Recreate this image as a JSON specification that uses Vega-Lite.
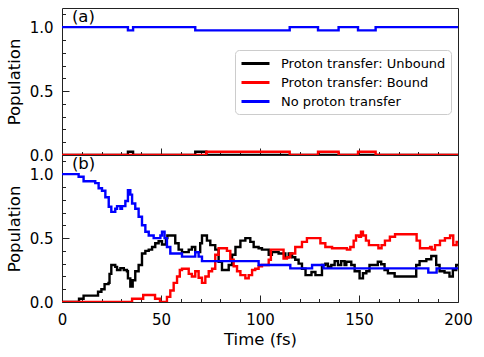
{
  "$schema": "https://vega.github.io/schema/vega-lite/v6.json",
  "padding": {"left": 5, "top": 6, "right": 5, "bottom": 5},
  "spacing": 0,
  "bounds": "flush",
  "config": {
    "font": "DejaVu Sans",
    "view": {"stroke": "#222222", "strokeWidth": 1},
    "axis": {
      "domain": false,
      "grid": false,
      "ticks": true,
      "tickColor": "#222222",
      "tickWidth": 1,
      "tickCount": 100,
      "labelOverlap": false,
      "labelFlush": false,
      "labelFont": "DejaVu Sans",
      "labelFontSize": 15,
      "labelColor": "black",
      "titleFont": "DejaVu Sans",
      "titleFontSize": 16.5,
      "titleFontWeight": "normal",
      "titleColor": "black"
    },
    "legend": {
      "orient": "none",
      "legendX": 173,
      "legendY": 42,
      "symbolType": "M-1,0H3",
      "symbolStrokeWidth": 3,
      "symbolSize": 196,
      "labelFont": "DejaVu Sans",
      "labelFontSize": 13,
      "labelColor": "black",
      "labelLimit": 300,
      "strokeColor": "#cccccc",
      "fillColor": "white",
      "cornerRadius": 4,
      "padding": 5,
      "rowPadding": 3,
      "labelOffset": 24
    }
  },
  "datasets": {
    "a": [
      {"s": "Proton transfer: Unbound", "t": 0, "p": 0},
      {"s": "Proton transfer: Unbound", "t": 33.3, "p": 0.025},
      {"s": "Proton transfer: Unbound", "t": 35.9, "p": 0},
      {"s": "Proton transfer: Unbound", "t": 67.3, "p": 0.025},
      {"s": "Proton transfer: Unbound", "t": 72.9, "p": 0},
      {"s": "Proton transfer: Unbound", "t": 200, "p": 0},
      {"s": "Proton transfer: Bound", "t": 0, "p": 0},
      {"s": "Proton transfer: Bound", "t": 72.9, "p": 0.025},
      {"s": "Proton transfer: Bound", "t": 115, "p": 0},
      {"s": "Proton transfer: Bound", "t": 129.3, "p": 0.025},
      {"s": "Proton transfer: Bound", "t": 139.7, "p": 0},
      {"s": "Proton transfer: Bound", "t": 149.5, "p": 0.025},
      {"s": "Proton transfer: Bound", "t": 158.4, "p": 0},
      {"s": "Proton transfer: Bound", "t": 200, "p": 0},
      {"s": "No proton transfer", "t": 0, "p": 1},
      {"s": "No proton transfer", "t": 33.3, "p": 0.975},
      {"s": "No proton transfer", "t": 35.9, "p": 1},
      {"s": "No proton transfer", "t": 67.3, "p": 0.975},
      {"s": "No proton transfer", "t": 115, "p": 1},
      {"s": "No proton transfer", "t": 129.3, "p": 0.975},
      {"s": "No proton transfer", "t": 139.7, "p": 1},
      {"s": "No proton transfer", "t": 149.5, "p": 0.975},
      {"s": "No proton transfer", "t": 158.4, "p": 1},
      {"s": "No proton transfer", "t": 200, "p": 1}
    ],
    "b": [
      {"s": "Proton transfer: Unbound", "t": 0, "p": 0},
      {"s": "Proton transfer: Unbound", "t": 8.6, "p": 0.025},
      {"s": "Proton transfer: Unbound", "t": 10.9, "p": 0.05},
      {"s": "Proton transfer: Unbound", "t": 18.2, "p": 0.08},
      {"s": "Proton transfer: Unbound", "t": 19.9, "p": 0.1},
      {"s": "Proton transfer: Unbound", "t": 21.5, "p": 0.14},
      {"s": "Proton transfer: Unbound", "t": 23.5, "p": 0.15},
      {"s": "Proton transfer: Unbound", "t": 24, "p": 0.22},
      {"s": "Proton transfer: Unbound", "t": 24.9, "p": 0.29},
      {"s": "Proton transfer: Unbound", "t": 26.9, "p": 0.275},
      {"s": "Proton transfer: Unbound", "t": 27.8, "p": 0.25},
      {"s": "Proton transfer: Unbound", "t": 29.5, "p": 0.265},
      {"s": "Proton transfer: Unbound", "t": 31.2, "p": 0.25},
      {"s": "Proton transfer: Unbound", "t": 32.8, "p": 0.24},
      {"s": "Proton transfer: Unbound", "t": 33.3, "p": 0.185},
      {"s": "Proton transfer: Unbound", "t": 34.5, "p": 0.12},
      {"s": "Proton transfer: Unbound", "t": 35.7, "p": 0.17},
      {"s": "Proton transfer: Unbound", "t": 37, "p": 0.24},
      {"s": "Proton transfer: Unbound", "t": 38.7, "p": 0.29},
      {"s": "Proton transfer: Unbound", "t": 40.4, "p": 0.38},
      {"s": "Proton transfer: Unbound", "t": 42.1, "p": 0.4},
      {"s": "Proton transfer: Unbound", "t": 43.8, "p": 0.41},
      {"s": "Proton transfer: Unbound", "t": 45.5, "p": 0.43},
      {"s": "Proton transfer: Unbound", "t": 47.1, "p": 0.46},
      {"s": "Proton transfer: Unbound", "t": 48.8, "p": 0.475},
      {"s": "Proton transfer: Unbound", "t": 50.5, "p": 0.45},
      {"s": "Proton transfer: Unbound", "t": 52.5, "p": 0.5},
      {"s": "Proton transfer: Unbound", "t": 53.2, "p": 0.52},
      {"s": "Proton transfer: Unbound", "t": 57.2, "p": 0.46},
      {"s": "Proton transfer: Unbound", "t": 58.9, "p": 0.41},
      {"s": "Proton transfer: Unbound", "t": 60.6, "p": 0.39},
      {"s": "Proton transfer: Unbound", "t": 64, "p": 0.41},
      {"s": "Proton transfer: Unbound", "t": 65.6, "p": 0.43},
      {"s": "Proton transfer: Unbound", "t": 67.3, "p": 0.39},
      {"s": "Proton transfer: Unbound", "t": 69.8, "p": 0.46},
      {"s": "Proton transfer: Unbound", "t": 70.7, "p": 0.52},
      {"s": "Proton transfer: Unbound", "t": 73.2, "p": 0.48},
      {"s": "Proton transfer: Unbound", "t": 74.9, "p": 0.445},
      {"s": "Proton transfer: Unbound", "t": 77.4, "p": 0.41},
      {"s": "Proton transfer: Unbound", "t": 79.1, "p": 0.315},
      {"s": "Proton transfer: Unbound", "t": 80.8, "p": 0.25},
      {"s": "Proton transfer: Unbound", "t": 84.2, "p": 0.29},
      {"s": "Proton transfer: Unbound", "t": 85.9, "p": 0.37},
      {"s": "Proton transfer: Unbound", "t": 87.6, "p": 0.43},
      {"s": "Proton transfer: Unbound", "t": 90.1, "p": 0.48},
      {"s": "Proton transfer: Unbound", "t": 92.6, "p": 0.5},
      {"s": "Proton transfer: Unbound", "t": 95.1, "p": 0.47},
      {"s": "Proton transfer: Unbound", "t": 96.8, "p": 0.43},
      {"s": "Proton transfer: Unbound", "t": 99.3, "p": 0.42},
      {"s": "Proton transfer: Unbound", "t": 101, "p": 0.41},
      {"s": "Proton transfer: Unbound", "t": 104.4, "p": 0.37},
      {"s": "Proton transfer: Unbound", "t": 106, "p": 0.39},
      {"s": "Proton transfer: Unbound", "t": 109.4, "p": 0.38},
      {"s": "Proton transfer: Unbound", "t": 112.8, "p": 0.35},
      {"s": "Proton transfer: Unbound", "t": 114.5, "p": 0.38},
      {"s": "Proton transfer: Unbound", "t": 116.2, "p": 0.35},
      {"s": "Proton transfer: Unbound", "t": 117.8, "p": 0.33},
      {"s": "Proton transfer: Unbound", "t": 119.5, "p": 0.3},
      {"s": "Proton transfer: Unbound", "t": 121.2, "p": 0.26},
      {"s": "Proton transfer: Unbound", "t": 123, "p": 0.21},
      {"s": "Proton transfer: Unbound", "t": 126, "p": 0.235},
      {"s": "Proton transfer: Unbound", "t": 128, "p": 0.21},
      {"s": "Proton transfer: Unbound", "t": 131.3, "p": 0.29},
      {"s": "Proton transfer: Unbound", "t": 133, "p": 0.3},
      {"s": "Proton transfer: Unbound", "t": 134.3, "p": 0.276},
      {"s": "Proton transfer: Unbound", "t": 136, "p": 0.29},
      {"s": "Proton transfer: Unbound", "t": 137.7, "p": 0.32},
      {"s": "Proton transfer: Unbound", "t": 139.4, "p": 0.29},
      {"s": "Proton transfer: Unbound", "t": 141, "p": 0.32},
      {"s": "Proton transfer: Unbound", "t": 142.7, "p": 0.29},
      {"s": "Proton transfer: Unbound", "t": 143.6, "p": 0.315},
      {"s": "Proton transfer: Unbound", "t": 146.1, "p": 0.29},
      {"s": "Proton transfer: Unbound", "t": 147.8, "p": 0.24},
      {"s": "Proton transfer: Unbound", "t": 150.3, "p": 0.185},
      {"s": "Proton transfer: Unbound", "t": 152, "p": 0.225},
      {"s": "Proton transfer: Unbound", "t": 153.7, "p": 0.24},
      {"s": "Proton transfer: Unbound", "t": 155.3, "p": 0.29},
      {"s": "Proton transfer: Unbound", "t": 159.5, "p": 0.315},
      {"s": "Proton transfer: Unbound", "t": 161.2, "p": 0.295},
      {"s": "Proton transfer: Unbound", "t": 162.9, "p": 0.25},
      {"s": "Proton transfer: Unbound", "t": 164.6, "p": 0.225},
      {"s": "Proton transfer: Unbound", "t": 168, "p": 0.2},
      {"s": "Proton transfer: Unbound", "t": 178.9, "p": 0.29},
      {"s": "Proton transfer: Unbound", "t": 180.6, "p": 0.32},
      {"s": "Proton transfer: Unbound", "t": 184, "p": 0.335},
      {"s": "Proton transfer: Unbound", "t": 186.5, "p": 0.36},
      {"s": "Proton transfer: Unbound", "t": 189, "p": 0.29},
      {"s": "Proton transfer: Unbound", "t": 190.7, "p": 0.24},
      {"s": "Proton transfer: Unbound", "t": 193.2, "p": 0.23},
      {"s": "Proton transfer: Unbound", "t": 195.7, "p": 0.2},
      {"s": "Proton transfer: Unbound", "t": 197.4, "p": 0.25},
      {"s": "Proton transfer: Unbound", "t": 199.1, "p": 0.29},
      {"s": "Proton transfer: Unbound", "t": 200, "p": 0.29},
      {"s": "Proton transfer: Bound", "t": 0, "p": 0},
      {"s": "Proton transfer: Bound", "t": 35.4, "p": 0.025},
      {"s": "Proton transfer: Bound", "t": 41, "p": 0.055},
      {"s": "Proton transfer: Bound", "t": 47, "p": 0.025},
      {"s": "Proton transfer: Bound", "t": 49.5, "p": 0},
      {"s": "Proton transfer: Bound", "t": 53, "p": 0.04},
      {"s": "Proton transfer: Bound", "t": 54.7, "p": 0.09},
      {"s": "Proton transfer: Bound", "t": 56.4, "p": 0.15},
      {"s": "Proton transfer: Bound", "t": 58.1, "p": 0.2},
      {"s": "Proton transfer: Bound", "t": 59.5, "p": 0.25},
      {"s": "Proton transfer: Bound", "t": 60.6, "p": 0.26},
      {"s": "Proton transfer: Bound", "t": 64, "p": 0.22},
      {"s": "Proton transfer: Bound", "t": 65.6, "p": 0.2},
      {"s": "Proton transfer: Bound", "t": 67.3, "p": 0.24},
      {"s": "Proton transfer: Bound", "t": 69, "p": 0.19},
      {"s": "Proton transfer: Bound", "t": 70.7, "p": 0.15},
      {"s": "Proton transfer: Bound", "t": 72.4, "p": 0.2},
      {"s": "Proton transfer: Bound", "t": 74.1, "p": 0.24},
      {"s": "Proton transfer: Bound", "t": 75.8, "p": 0.26},
      {"s": "Proton transfer: Bound", "t": 77.4, "p": 0.37},
      {"s": "Proton transfer: Bound", "t": 79.1, "p": 0.42},
      {"s": "Proton transfer: Bound", "t": 83.3, "p": 0.4},
      {"s": "Proton transfer: Bound", "t": 85, "p": 0.33},
      {"s": "Proton transfer: Bound", "t": 86.7, "p": 0.28},
      {"s": "Proton transfer: Bound", "t": 88.4, "p": 0.24},
      {"s": "Proton transfer: Bound", "t": 90.1, "p": 0.21},
      {"s": "Proton transfer: Bound", "t": 92.6, "p": 0.185},
      {"s": "Proton transfer: Bound", "t": 94.3, "p": 0.21},
      {"s": "Proton transfer: Bound", "t": 96, "p": 0.25},
      {"s": "Proton transfer: Bound", "t": 97.6, "p": 0.26},
      {"s": "Proton transfer: Bound", "t": 99.3, "p": 0.28},
      {"s": "Proton transfer: Bound", "t": 101, "p": 0.29},
      {"s": "Proton transfer: Bound", "t": 104.4, "p": 0.33},
      {"s": "Proton transfer: Bound", "t": 105.5, "p": 0.41},
      {"s": "Proton transfer: Bound", "t": 107.7, "p": 0.41},
      {"s": "Proton transfer: Bound", "t": 111.9, "p": 0.34},
      {"s": "Proton transfer: Bound", "t": 113.6, "p": 0.35},
      {"s": "Proton transfer: Bound", "t": 115.3, "p": 0.38},
      {"s": "Proton transfer: Bound", "t": 117.8, "p": 0.43},
      {"s": "Proton transfer: Bound", "t": 121.2, "p": 0.47},
      {"s": "Proton transfer: Bound", "t": 123.7, "p": 0.5},
      {"s": "Proton transfer: Bound", "t": 130.5, "p": 0.46},
      {"s": "Proton transfer: Bound", "t": 133, "p": 0.43},
      {"s": "Proton transfer: Bound", "t": 136.4, "p": 0.42},
      {"s": "Proton transfer: Bound", "t": 141.4, "p": 0.42},
      {"s": "Proton transfer: Bound", "t": 143.9, "p": 0.41},
      {"s": "Proton transfer: Bound", "t": 145.6, "p": 0.43},
      {"s": "Proton transfer: Bound", "t": 147.3, "p": 0.48},
      {"s": "Proton transfer: Bound", "t": 148.5, "p": 0.52},
      {"s": "Proton transfer: Bound", "t": 150, "p": 0.51},
      {"s": "Proton transfer: Bound", "t": 151, "p": 0.55},
      {"s": "Proton transfer: Bound", "t": 152, "p": 0.52},
      {"s": "Proton transfer: Bound", "t": 153.5, "p": 0.48},
      {"s": "Proton transfer: Bound", "t": 155, "p": 0.445},
      {"s": "Proton transfer: Bound", "t": 159.8, "p": 0.42},
      {"s": "Proton transfer: Bound", "t": 161.4, "p": 0.445},
      {"s": "Proton transfer: Bound", "t": 163.1, "p": 0.48},
      {"s": "Proton transfer: Bound", "t": 165.6, "p": 0.51},
      {"s": "Proton transfer: Bound", "t": 168.2, "p": 0.53},
      {"s": "Proton transfer: Bound", "t": 179.1, "p": 0.48},
      {"s": "Proton transfer: Bound", "t": 180.8, "p": 0.42},
      {"s": "Proton transfer: Bound", "t": 185.9, "p": 0.43},
      {"s": "Proton transfer: Bound", "t": 186.7, "p": 0.41},
      {"s": "Proton transfer: Bound", "t": 188.4, "p": 0.445},
      {"s": "Proton transfer: Bound", "t": 190.9, "p": 0.48},
      {"s": "Proton transfer: Bound", "t": 193.4, "p": 0.5},
      {"s": "Proton transfer: Bound", "t": 196, "p": 0.52},
      {"s": "Proton transfer: Bound", "t": 197.6, "p": 0.445},
      {"s": "Proton transfer: Bound", "t": 199.3, "p": 0.47},
      {"s": "Proton transfer: Bound", "t": 200, "p": 0.47},
      {"s": "No proton transfer", "t": 0, "p": 1},
      {"s": "No proton transfer", "t": 8.4, "p": 0.98},
      {"s": "No proton transfer", "t": 10.9, "p": 0.945},
      {"s": "No proton transfer", "t": 16.8, "p": 0.93},
      {"s": "No proton transfer", "t": 18.5, "p": 0.89},
      {"s": "No proton transfer", "t": 20.2, "p": 0.87},
      {"s": "No proton transfer", "t": 21.9, "p": 0.82},
      {"s": "No proton transfer", "t": 23.6, "p": 0.745},
      {"s": "No proton transfer", "t": 24.9, "p": 0.705},
      {"s": "No proton transfer", "t": 26.9, "p": 0.73},
      {"s": "No proton transfer", "t": 27.8, "p": 0.75},
      {"s": "No proton transfer", "t": 29.5, "p": 0.73},
      {"s": "No proton transfer", "t": 30.3, "p": 0.75},
      {"s": "No proton transfer", "t": 32, "p": 0.79},
      {"s": "No proton transfer", "t": 33.3, "p": 0.875},
      {"s": "No proton transfer", "t": 34.5, "p": 0.84},
      {"s": "No proton transfer", "t": 35.4, "p": 0.77},
      {"s": "No proton transfer", "t": 37, "p": 0.73},
      {"s": "No proton transfer", "t": 38.7, "p": 0.667},
      {"s": "No proton transfer", "t": 40.4, "p": 0.6},
      {"s": "No proton transfer", "t": 42.1, "p": 0.55},
      {"s": "No proton transfer", "t": 43.8, "p": 0.52},
      {"s": "No proton transfer", "t": 46.3, "p": 0.5},
      {"s": "No proton transfer", "t": 49.7, "p": 0.52},
      {"s": "No proton transfer", "t": 50.5, "p": 0.55},
      {"s": "No proton transfer", "t": 51.8, "p": 0.5},
      {"s": "No proton transfer", "t": 53, "p": 0.43},
      {"s": "No proton transfer", "t": 54.7, "p": 0.38},
      {"s": "No proton transfer", "t": 60.6, "p": 0.355},
      {"s": "No proton transfer", "t": 67.3, "p": 0.39},
      {"s": "No proton transfer", "t": 69, "p": 0.355},
      {"s": "No proton transfer", "t": 70.7, "p": 0.32},
      {"s": "No proton transfer", "t": 99.3, "p": 0.29},
      {"s": "No proton transfer", "t": 115.3, "p": 0.263},
      {"s": "No proton transfer", "t": 126.3, "p": 0.29},
      {"s": "No proton transfer", "t": 132.1, "p": 0.263},
      {"s": "No proton transfer", "t": 185, "p": 0.23},
      {"s": "No proton transfer", "t": 189.2, "p": 0.263},
      {"s": "No proton transfer", "t": 200, "p": 0.263}
    ]
  },
  "vconcat": [
    {
      "width": 396,
      "height": 147,
      "layer": [
        {
          "data": {"name": "a"},
          "mark": {"type": "line", "interpolate": "step-after", "strokeWidth": 2.4, "clip": true},
          "encoding": {
            "x": {"field": "t", "type": "quantitative",
                  "scale": {"domain": [0, 200], "nice": false, "zero": false},
                  "axis": {"values": [0,10,20,30,40,50,60,70,80,90,100,110,120,130,140,150,160,170,180,190,200],
                           "labels": false, "title": null, "minExtent": 0, "maxExtent": 0,
                           "tickSize": {"condition": {"test": "datum.value % 50 === 0", "value": -7}, "value": -3.5}}},
            "y": {"field": "p", "type": "quantitative",
                  "scale": {"domain": [0, 1.15], "nice": false},
                  "axis": {"values": [0,0.1,0.2,0.3,0.4,0.5,0.6,0.7,0.8,0.9,1.0,1.1],
                           "labelExpr": "abs(datum.value*2 - round(datum.value*2)) < 0.001 ? format(datum.value, '.1f') : ''",
                           "tickSize": {"condition": {"test": "abs(datum.value*2 - round(datum.value*2)) < 0.001", "value": -7}, "value": -3.5},
                           "labelPadding": 16, "title": "Population", "titlePadding": 7}},
            "color": {"field": "s", "type": "nominal",
                      "scale": {"domain": ["Proton transfer: Unbound", "Proton transfer: Bound", "No proton transfer"],
                                "range": ["#000000", "#ff0000", "#0000ff"]},
                      "legend": {"title": null}}
          }
        },
        {
          "data": {"values": [{"t": 5, "p": 1.083, "label": "(a)"}]},
          "mark": {"type": "text", "align": "left", "baseline": "middle", "fontSize": 16.5, "color": "black"},
          "encoding": {
            "x": {"field": "t", "type": "quantitative"},
            "y": {"field": "p", "type": "quantitative"},
            "text": {"field": "label"}
          }
        }
      ]
    },
    {
      "width": 396,
      "height": 147,
      "layer": [
        {
          "data": {"name": "b"},
          "mark": {"type": "line", "interpolate": "step-after", "strokeWidth": 2.4, "clip": true},
          "encoding": {
            "x": {"field": "t", "type": "quantitative",
                  "scale": {"domain": [0, 200], "nice": false, "zero": false},
                  "axis": {"values": [0,10,20,30,40,50,60,70,80,90,100,110,120,130,140,150,160,170,180,190,200],
                           "labelExpr": "datum.value % 50 === 0 ? datum.label : ''",
                           "tickSize": {"condition": {"test": "datum.value % 50 === 0", "value": -7}, "value": -3.5},
                           "labelPadding": 17, "title": "Time (fs)", "titlePadding": 1}},
            "y": {"field": "p", "type": "quantitative",
                  "scale": {"domain": [0, 1.15], "nice": false},
                  "axis": {"values": [0,0.1,0.2,0.3,0.4,0.5,0.6,0.7,0.8,0.9,1.0,1.1],
                           "labelExpr": "abs(datum.value*2 - round(datum.value*2)) < 0.001 ? format(datum.value, '.1f') : ''",
                           "tickSize": {"condition": {"test": "abs(datum.value*2 - round(datum.value*2)) < 0.001", "value": -7}, "value": -3.5},
                           "labelPadding": 16, "title": "Population", "titlePadding": 7}},
            "color": {"field": "s", "type": "nominal",
                      "scale": {"domain": ["Proton transfer: Unbound", "Proton transfer: Bound", "No proton transfer"],
                                "range": ["#000000", "#ff0000", "#0000ff"]},
                      "legend": {"title": null}}
          }
        },
        {
          "data": {"values": [{"t": 5, "p": 1.083, "label": "(b)"}]},
          "mark": {"type": "text", "align": "left", "baseline": "middle", "fontSize": 16.5, "color": "black"},
          "encoding": {
            "x": {"field": "t", "type": "quantitative"},
            "y": {"field": "p", "type": "quantitative"},
            "text": {"field": "label"}
          }
        }
      ]
    }
  ]
}
